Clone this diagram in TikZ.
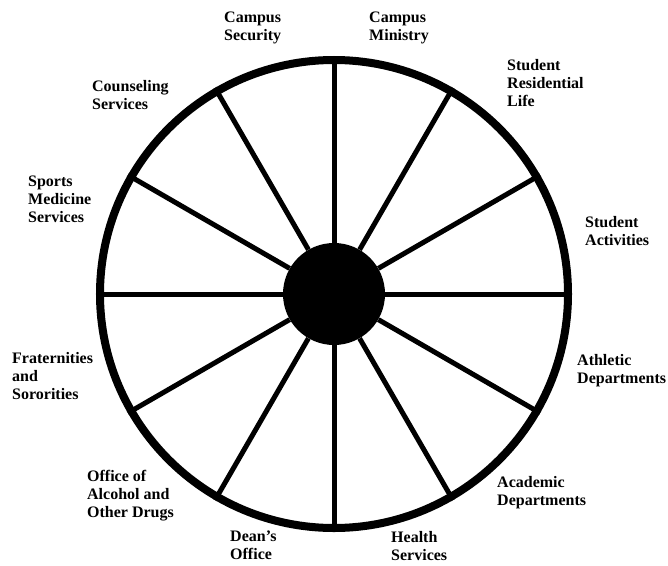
\documentclass[tikz,border=0pt]{standalone}
\usepackage{fontspec}
\setmainfont{Liberation Serif}
\usepackage{tikz}
\usetikzlibrary{positioning}
\tikzset{
  rim/.style={circle, draw=black, line width=8pt, minimum size=468pt, inner sep=0pt},
  hub/.style={circle, fill=black, minimum size=102pt, inner sep=0pt},
  spoke/.style={black, line width=5pt},
  lbl/.style={anchor=north west, inner sep=0pt, align=left,
      font=\bfseries\fontsize{16}{18}\selectfont},
}

\begin{document}
\begin{tikzpicture}[x=1pt, y=1pt]
\useasboundingbox (-334,-271) rectangle (334,294);
% the wheel
\node[rim] (wheel) at (0,0) {};
\node[hub] (hub) at (0,0) {};
\foreach \a in {0,30,...,330}
  \draw[spoke] (hub.\a) -- (wheel.\a);
% labels round the rim
\node[lbl] (security)   at (-110,282) {Campus\\Security};
\node[lbl] (ministry)   at (35,282)   {Campus\\Ministry};
\node[lbl] (reslife)    at (173,235)  {Student\\Residential\\Life};
\node[lbl] (activities) at (251,78)   {Student\\Activities};
\node[lbl] (athletic)   at (243,-60)  {Athletic\\Departments};
\node[lbl] (academic)   at (163,-182) {Academic\\Departments};
\node[lbl] (health)     at (57,-237)  {Health\\Services};
\node[lbl] (deans)      at (-104,-237) {Dean's\\Office};
\node[lbl] (alcohol)    at (-247,-176) {Office of\\Alcohol and\\Other Drugs};
\node[lbl] (greek)      at (-322,-58) {Fraternities\\and\\Sororities};
\node[lbl] (sportsmed)  at (-306,118) {Sports\\Medicine\\Services};
\node[lbl] (counseling) at (-242,214) {Counseling\\Services};
\end{tikzpicture}
\end{document}
